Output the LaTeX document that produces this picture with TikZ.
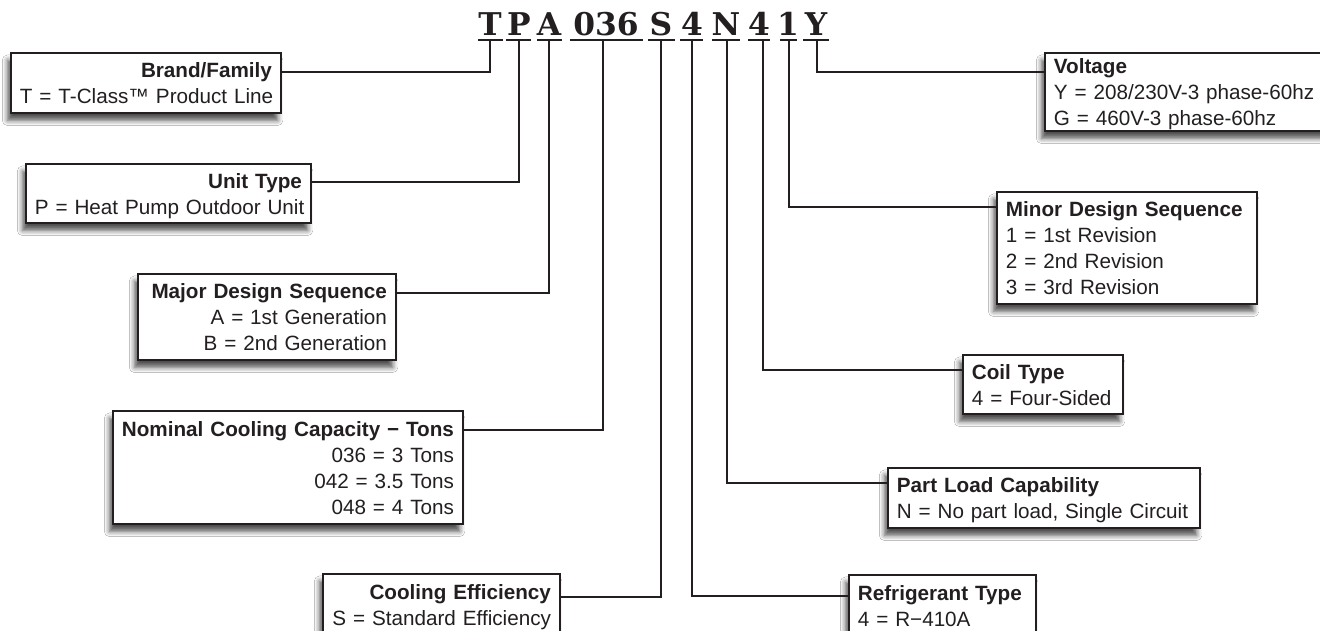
\documentclass[tikz,border=0pt]{standalone}
\usepackage{fontspec}
\setmainfont{Liberation Sans}
\newfontfamily\codefont{DejaVu Serif}
\usetikzlibrary{shadows.blur}
\definecolor{ink}{HTML}{231F20}
\newcommand\topst{\rule{0pt}{15.5pt}}
\newcommand\botst{\rule[-4pt]{0pt}{0pt}}
\begin{document}
\begin{tikzpicture}[x=0.75pt,y=-0.75pt,
  box/.style={draw=ink, line width=1.4pt, fill=white, anchor=north west, inner xsep=6.75pt, inner ysep=0pt, text=ink,
    font=\fontsize{15.5}{19.5}\selectfont,
    blur shadow={shadow xshift=-2.5pt, shadow yshift=-5.5pt, shadow blur radius=4pt, shadow opacity=70}},
  lbox/.style={box, align=right},
  rbox/.style={box, align=left},
  conn/.style={draw=ink, line width=1.9pt},
  uline/.style={draw=ink, line width=1.5pt},
  code/.style={anchor=base, inner sep=0pt, text=ink, font=\codefont\bfseries\fontsize{23.5}{23.5}\selectfont}]
\fill[white] (0,0) rectangle (1320,631);
\useasboundingbox (0,0) rectangle (1320,631);

% code letters
\node[code] (cT) at (490,36) {T};
\node[code] (cP) at (519,36) {P};
\node[code] (cA) at (549,36) {A};
\node[code] (cN0) at (606,36) {036};
\node[code] (cS) at (661,36) {S};
\node[code] (c4a) at (692,36) {4};
\node[code] (cN) at (726,36) {N};
\node[code] (c4b) at (759,36) {4};
\node[code] (c1) at (788,36) {1};
\node[code] (cY) at (816,36) {Y};
% underlines
\draw[uline] (478,40) -- (503,40);
\draw[uline] (506,40) -- (531,40);
\draw[uline] (537,40) -- (562,40);
\draw[uline] (570,40) -- (643,40);
\draw[uline] (648,40) -- (675,40);
\draw[uline] (680,40) -- (703,40);
\draw[uline] (712,40) -- (740,40);
\draw[uline] (748,40) -- (770,40);
\draw[uline] (780,40) -- (797,40);
\draw[uline] (803,40) -- (829,40);
% stub points
\coordinate (sT) at (490,40);
\coordinate (sP) at (519,40);
\coordinate (sA) at (549,40);
\coordinate (sN0) at (603,40);
\coordinate (sS) at (661,40);
\coordinate (s4a) at (692,40);
\coordinate (sN) at (727,40);
\coordinate (s4b) at (763,40);
\coordinate (s1) at (789,40);
\coordinate (sY) at (817,40);

% left boxes
\node[lbox, text width=189pt, minimum height=45pt] (brand) at (10,52)
  {\topst\mbox{\textbf{Brand/Family}}\\\mbox{T = T-Class™ Product Line}\botst};
\node[lbox, text width=200.25pt, minimum height=44.25pt] (unit) at (25,163)
  {\topst\mbox{\textbf{Unit Type}}\\\mbox{P = Heat Pump Outdoor Unit}\botst};
\node[lbox, text width=180pt, minimum height=64.5pt] (major) at (137,273)
  {\topst\mbox{\textbf{Major Design Sequence}}\\\mbox{A = 1st Generation}\\\mbox{B = 2nd Generation}\botst};
\node[lbox, text width=249pt, minimum height=84.75pt] (nom) at (112,410)
  {\topst\mbox{\textbf{Nominal Cooling Capacity − Tons}}\\\mbox{036 = 3 Tons}\\\mbox{042 = 3.5 Tons}\\\mbox{048 = 4 Tons}\botst};
\node[lbox, text width=164.25pt, minimum height=45.75pt] (cool) at (322,573)
  {\topst\mbox{\textbf{Cooling Efficiency}}\\\mbox{S = Standard Efficiency}\botst};

% right boxes
\node[rbox, text width=226.5pt, minimum height=57pt] (volt) at (1044,52)
  {\topst\mbox{\textbf{Voltage}}\\\mbox{Y = 208/230V-3 phase-60hz}\\\mbox{G = 460V-3 phase-60hz}\botst};
\node[rbox, text width=181.5pt, minimum height=84pt] (minor) at (996,191)
  {\topst\mbox{\textbf{Minor Design Sequence}}\\\mbox{1 = 1st Revision}\\\mbox{2 = 2nd Revision}\\\mbox{3 = 3rd Revision}\botst};
\node[rbox, text width=106.5pt, minimum height=44.25pt] (coil) at (962,354)
  {\topst\mbox{\textbf{Coil Type}}\\\mbox{4 = Four-Sided}\botst};
\node[rbox, text width=220.5pt, minimum height=45pt] (part) at (887,467)
  {\topst\mbox{\textbf{Part Load Capability}}\\\mbox{N = No part load, Single Circuit}\botst};
\node[rbox, text width=126.75pt, minimum height=45.75pt] (refr) at (848,574)
  {\topst\mbox{\textbf{Refrigerant Type}}\\\mbox{4 = R−410A}\botst};

% connectors
\draw[conn] (brand.east |- 0,72) -| (sT);
\draw[conn] (unit.east |- 0,182) -| (sP);
\draw[conn] (major.east |- 0,293) -| (sA);
\draw[conn] (nom.east |- 0,430) -| (sN0);
\draw[conn] (cool.east |- 0,597) -| (sS);
\draw[conn] (refr.west |- 0,596) -| (s4a);
\draw[conn] (part.west |- 0,483) -| (sN);
\draw[conn] (coil.west |- 0,370) -| (s4b);
\draw[conn] (minor.west |- 0,207) -| (s1);
\draw[conn] (volt.west |- 0,72) -| (sY);
\end{tikzpicture}
\end{document}
